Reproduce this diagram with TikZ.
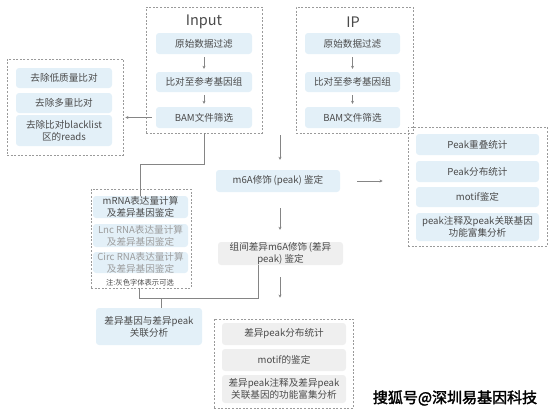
\documentclass[tikz,border=0pt]{standalone}
\usepackage{fontspec}
\setmainfont{Noto Sans CJK SC}
\newfontfamily\wmfont[FakeBold=2]{Noto Sans CJK SC}
\usetikzlibrary{arrows.meta}
\definecolor{blueF}{HTML}{E3F0F8}
\definecolor{grayF}{HTML}{EFEFEF}
\definecolor{txt}{HTML}{4A4A4A}
\definecolor{txtL}{HTML}{9C9C9C}
\definecolor{frameC}{HTML}{9A9A9A}
\definecolor{lineC}{HTML}{858585}
\tikzset{
  box/.style={rounded corners=3pt, fill=blueF, text=txt, font=\fontsize{9.6}{12}\selectfont, align=center, inner sep=0pt},
  gbox/.style={box, fill=grayF},
  frame/.style={draw=frameC, dash pattern=on 2pt off 1.6pt, line width=0.9pt, inner sep=0pt},
  conn/.style={draw=lineC, line width=0.9pt},
  arr/.style={conn, -{Stealth[length=3pt,width=3pt]}},
  ttl/.style={text=txt, font=\fontsize{14.5}{16}\selectfont, inner sep=0pt}
}
\begin{document}
\begin{tikzpicture}[x=1pt,y=-1pt]
\useasboundingbox (0,0) rectangle (554,416);
% Input
\node[frame, minimum width=116pt, minimum height=126pt] (inF) at (204,70) {};
\node[ttl] (inT) at (204,22) {Input};
\node[box, minimum width=96pt, minimum height=21pt] (in1) at (204,43.5) {原始数据过滤};
\node[box, minimum width=96pt, minimum height=20pt] (in2) at (204,82) {比对至参考基因组};
\node[box, minimum width=96pt, minimum height=21pt] (in3) at (204,117.5) {BAM文件筛选};
\draw[arr, shorten <=3pt, shorten >=3pt] (in1) -- (in2);
\draw[arr, shorten <=3pt, shorten >=3pt] (in2) -- (in3);
% IP
\node[frame, minimum width=117pt, minimum height=126pt] (ipF) at (354.5,70) {};
\node[ttl] (ipT) at (353,22) {IP};
\node[box, minimum width=95pt, minimum height=21pt] (ip1) at (352.5,43.5) {原始数据过滤};
\node[box, minimum width=95pt, minimum height=20pt] (ip2) at (352.5,82) {比对至参考基因组};
\node[box, minimum width=95pt, minimum height=21pt] (ip3) at (352.5,117.5) {BAM文件筛选};
\draw[arr, shorten <=3pt, shorten >=3pt] (ip1) -- (ip2);
\draw[arr, shorten <=3pt, shorten >=3pt] (ip2) -- (ip3);
% left filter frame
\node[frame, minimum width=116pt, minimum height=96pt] (lF) at (65,107) {};
\node[box, minimum width=96pt, minimum height=20pt] (l1) at (64,78) {去除低质量比对};
\node[box, minimum width=96pt, minimum height=20pt] (l2) at (64,103) {去除多重比对};
\node[box, minimum width=96pt, minimum height=31pt] (l3) at (64,130.5) {去除比对blacklist\\区的reads};
\draw[arr, shorten <=4pt, shorten >=2pt] (in3.west) -- (in3.west -| lF.east);
% m6A
\coordinate (topS) at (280,135);
\node[box, minimum width=124pt, minimum height=22pt] (m6a) at (278,181) {m6A修饰\,(peak)\ 鉴定};
\draw[arr, shorten >=10pt] (topS) -- (topS |- m6a.north);
% right frame
\node[frame, minimum width=139pt, minimum height=119pt] (rF) at (477.5,186.5) {};
\node[box, minimum width=123pt, minimum height=21pt] (r1) at (477.5,144.5) {Peak重叠统计};
\node[box, minimum width=123pt, minimum height=21pt] (r2) at (477.5,171.5) {Peak分布统计};
\node[box, minimum width=123pt, minimum height=20pt] (r3) at (477.5,197) {motif鉴定};
\node[box, minimum width=123pt, minimum height=28pt] (r4) at (477.5,227) {peak注释及peak关联基因\\功能富集分析};
\draw[arr, shorten <=17pt, shorten >=25pt] (m6a.east) -- (m6a.east -| rF.west);
% differential
\node[gbox, minimum width=125pt, minimum height=23pt] (diff) at (280.5,253.5) {组间差异m6A修饰\,(差异\\peak)\ 鉴定};
\draw[arr, shorten <=16pt, shorten >=12pt] (m6a.south -| topS) -- (diff.north -| topS);
% mRNA frame
\node[frame, minimum width=100pt, minimum height=99pt] (mF) at (141,238.5) {};
\node[box, minimum width=95pt, minimum height=22pt] (m1) at (140.5,207) {mRNA表达量计算\\及差异基因鉴定};
\node[box, text=txtL, minimum width=95pt, minimum height=23pt] (m2) at (140.5,235.5) {Lnc RNA表达量计算\\及差异基因鉴定};
\node[box, text=txtL, minimum width=95pt, minimum height=21pt] (m3) at (140.5,262.5) {Circ RNA表达量计算\\及差异基因鉴定};
\node[text=txt, font=\fontsize{7.3}{8}\selectfont, inner sep=0pt] (note) at (140,282.5) {注:灰色字体表示可选};
\coordinate (k1) at (204.5,164);
\draw[conn] (inF.south -| k1) -- (k1) -| (m1.north);
% bottom joins
\coordinate (j1) at (258,298);
\coordinate (j2) at (161,298);
\node[box, minimum width=106pt, minimum height=37pt] (assoc) at (149,326.5) {差异基因与差异peak\\关联分析};
\draw[conn] (mF.south -| 139,0) |- (j1) -- (j1 |- diff.south);
\draw[conn] (j2) -- (j2 |- assoc.north);
% bottom frame
\node[frame, minimum width=139pt, minimum height=89pt] (bF) at (283.5,363.5) {};
\node[gbox, minimum width=124pt, minimum height=22pt] (b1) at (284,334) {差异peak分布统计};
\node[gbox, minimum width=124pt, minimum height=22pt] (b2) at (284,360) {motif的鉴定};
\node[gbox, minimum width=124pt, minimum height=28pt] (b3) at (284,389) {差异peak注释及差异peak\\关联基因的功能富集分析};
\draw[arr, shorten <=12pt, shorten >=21pt] (diff.south -| topS) -- (bF.north -| topS);
% watermark
\node[font=\wmfont\fontsize{15}{16}\selectfont, text=black, inner sep=0pt] (wm) at (455,398) {搜狐号@深圳易基因科技};
\end{tikzpicture}
\end{document}
